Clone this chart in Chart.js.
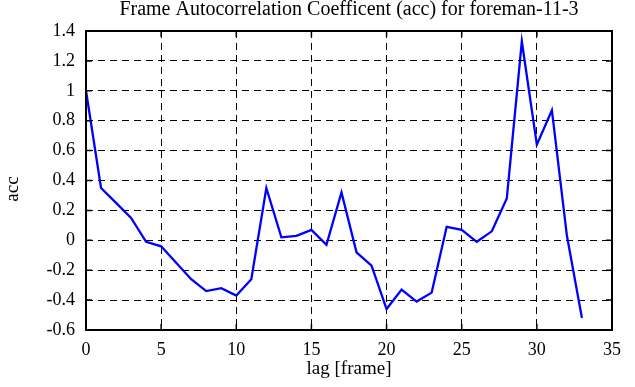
<!DOCTYPE html>
<html>
<head>
<meta charset="utf-8">
<script src="https://cdn.jsdelivr.net/npm/chart.js@4"></script>
<style>
  html, body { margin: 0; padding: 0; background: #fff; }
  #wrap { width: 635px; height: 387px; }
</style>
</head>
<body>
<div id="wrap"><canvas id="accChart" width="635" height="387"></canvas></div>
<script>
// lag in frames, and the autocorrelation coefficient at each lag
let lags = [0, 1, 2, 3, 4, 5, 6, 7, 8, 9, 10, 11, 12, 13, 14, 15, 16,
            17, 18, 19, 20, 21, 22, 23, 24, 25, 26, 27, 28, 29, 30, 31, 32, 33];
let acc = [1.0, 0.35, 0.25, 0.15, -0.01, -0.04, -0.15, -0.26, -0.34, -0.32, -0.37,
           -0.26, 0.35, 0.02, 0.03, 0.07, -0.03, 0.32, -0.08, -0.17, -0.46, -0.33,
           -0.41, -0.35, 0.09, 0.07, -0.01, 0.06, 0.28, 1.33, 0.64, 0.87, 0.03, -0.52];
let xTicks = [0, 5, 10, 15, 20, 25, 30, 35];
let yTicks = [-0.6, -0.4, -0.2, 0, 0.2, 0.4, 0.6, 0.8, 1, 1.2, 1.4];
let titleText = "Frame Autocorrelation Coefficent (acc) for foreman-11-3";
let xLabel = "lag [frame]";
let yLabel = "acc";

let serif = "'Liberation Serif', 'DejaVu Serif', serif";

// title and axis labels, plus little inner tick marks on all four sides
let framePlugin = {
    id: "frame",
    afterDraw: function(chart) {
        let ctx = chart.ctx;
        let a = chart.chartArea;
        let xs = chart.scales.x, ys = chart.scales.y;
        ctx.save();
        ctx.strokeStyle = "#000";
        ctx.lineWidth = 1.5;
        ctx.beginPath();
        xTicks.forEach(function(t) {
            let px = xs.getPixelForValue(t);
            ctx.moveTo(px, a.bottom); ctx.lineTo(px, a.bottom - 6);
            ctx.moveTo(px, a.top); ctx.lineTo(px, a.top + 6);
        });
        yTicks.forEach(function(t) {
            let py = ys.getPixelForValue(t);
            ctx.moveTo(a.left, py); ctx.lineTo(a.left + 6, py);
            ctx.moveTo(a.right, py); ctx.lineTo(a.right - 6, py);
        });
        ctx.stroke();
        ctx.lineWidth = 2;
        ctx.strokeRect(a.left, a.top, a.right - a.left, a.bottom - a.top);

        ctx.fillStyle = "#000";
        ctx.textAlign = "center";
        ctx.textBaseline = "alphabetic";
        ctx.font = "20px " + serif;
        ctx.fillText(titleText, (a.left + a.right) / 2, 15);

        ctx.font = "19px " + serif;
        ctx.textBaseline = "middle";
        ctx.fillText(xLabel, (a.left + a.right) / 2, 369);
        ctx.translate(13, 189);
        ctx.rotate(-Math.PI / 2);
        ctx.fillText(yLabel, 0, 0);
        ctx.restore();
    }
};

let accChart = new Chart(document.getElementById("accChart").getContext("2d"), {
    type: "line",
    data: {
        datasets: [{
            label: "acc",
            data: lags.map(function(l, i) { return { x: l, y: acc[i] }; }),
            borderColor: "#0000ff",
            borderWidth: 2.3,
            fill: false,
            tension: 0,
            pointRadius: 0
        }]
    },
    options: {
        responsive: false,
        animation: false,
        layout: { padding: { top: 31, right: 23, left: 0, bottom: 0 } },
        plugins: {
            legend: { display: false },
            title: { display: false },
            tooltip: { enabled: false }
        },
        scales: {
            x: {
                type: "linear",
                min: 0,
                max: 35,
                afterBuildTicks: function(scale) {
                    scale.ticks = xTicks.map(function(v) { return { value: v }; });
                },
                afterFit: function(scale) { scale.height = 57; },
                border: { display: false, dash: [7, 5] },
                grid: { color: "#000", lineWidth: 1, drawTicks: false },
                ticks: {
                    color: "#000",
                    font: { family: serif, size: 18 },
                    padding: 9,
                    maxRotation: 0
                }
            },
            y: {
                min: -0.6,
                max: 1.4,
                afterBuildTicks: function(scale) {
                    scale.ticks = yTicks.map(function(v) { return { value: v }; });
                },
                afterFit: function(scale) { scale.width = 86; },
                border: { display: false, dash: [7, 5] },
                grid: { color: "#000", lineWidth: 1, drawTicks: false },
                ticks: {
                    color: "#000",
                    font: { family: serif, size: 18 },
                    padding: 11,
                    callback: function(value) {
                        return String(Math.round(value * 10) / 10);
                    }
                }
            }
        }
    },
    plugins: [framePlugin]
});
</script>
</body>
</html>
